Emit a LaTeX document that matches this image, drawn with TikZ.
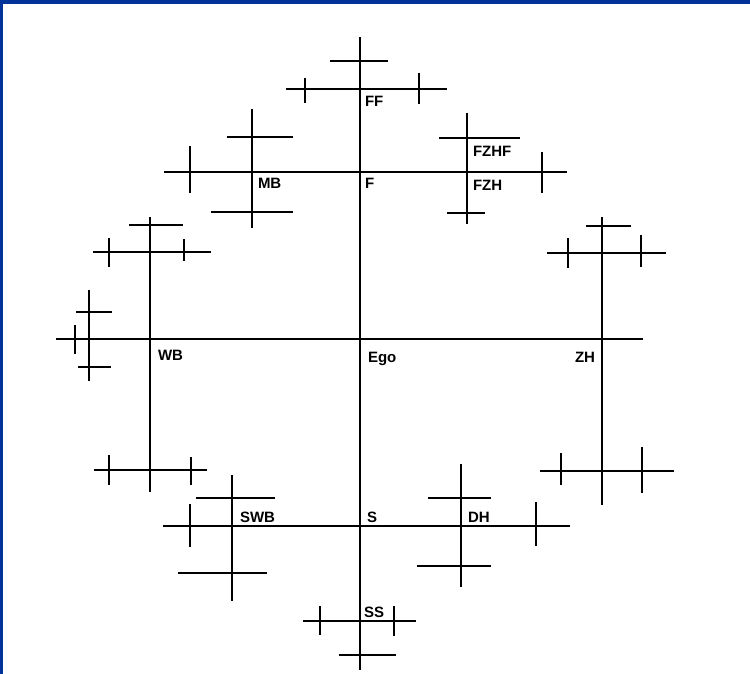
\documentclass[tikz,border=0pt]{standalone}
\usepackage{fontspec}
\setmainfont{Liberation Sans}
\usepackage{xcolor}
\usepackage{tikz}
\definecolor{frameblue}{RGB}{0,51,153}
\usetikzlibrary{positioning}

\begin{document}
\begin{tikzpicture}[x=1pt, y=-1pt, line width=2pt,
  kin/.style={anchor=base west, inner sep=0pt, font=\fontsize{15}{16}\selectfont\bfseries}]
\useasboundingbox (0,0) rectangle (750,674);
% Frame
\fill[white] (0,0) rectangle (750,674);
\fill[frameblue] (0,0) rectangle (750,4);
\fill[frameblue] (0,0) rectangle (3,674);
% Main line of descent
\draw (360,37) -- (360,670);
% Father's father
\draw (330,61) -- (388,61);
\draw (286,89) -- (447,89);
% Father's generation
\draw (164,172) -- (567,172);
\draw (252,109) -- (252,228);
\draw (227,137) -- (293,137);
\draw (211,212) -- (293,212);
\draw (467,113) -- (467,224);
\draw (439,138) -- (520,138);
\draw (447,213) -- (485,213);
% Ego's generation
\draw (56,339) -- (643,339);
\draw (150,217) -- (150,492);
\draw (129,225) -- (183,225);
\draw (93,252) -- (211,252);
\draw (94,470) -- (207,470);
\draw (89,290) -- (89,381);
\draw (76,312) -- (112,312);
\draw (78,367) -- (111,367);
\draw (602,217) -- (602,505);
\draw (586,226) -- (631,226);
\draw (547,253) -- (666,253);
\draw (540,471) -- (674,471);
% Son's generation
\draw (163,526) -- (570,526);
\draw (232,475) -- (232,601);
\draw (196,498) -- (275,498);
\draw (178,573) -- (267,573);
\draw (461,464) -- (461,587);
\draw (428,498) -- (491,498);
\draw (417,566) -- (491,566);
% Son's son
\draw (303,621) -- (416,621);
\draw (339,655) -- (396,655);
% Short ticks
\foreach \x/\a/\b in {305/78/103, 419/73/104, 190/146/193, 542/152/193,
    109/238/267, 184/239/261, 75/325/354, 109/455/485, 191/457/485,
    568/238/268, 641/235/267, 561/453/485, 642/447/493,
    190/504/547, 536/502/546, 320/606/635, 394/606/636} {
  \draw (\x,\a) -- (\x,\b);
}
% Labels
\node[kin] (ff) at (364,107) {FF};
\node[kin] (mb) at (257,189) {MB};
\node[kin] (f) at (364,189) {F};
\node[kin] (fzhf) at (472,157) {FZHF};
\node[kin] (fzh) at (472,190) {FZH};
\node[kin] (wb) at (157,360) {WB};
\node[kin] (ego) at (367,362) {Ego};
\node[kin, anchor=base east] (zh) at (596,362) {ZH};
\node[kin] (swb) at (239,522) {SWB};
\node[kin] (s) at (366,522) {S};
\node[kin] (dh) at (467,522) {DH};
\node[kin] (ss) at (363,617) {SS};
\end{tikzpicture}
\end{document}
